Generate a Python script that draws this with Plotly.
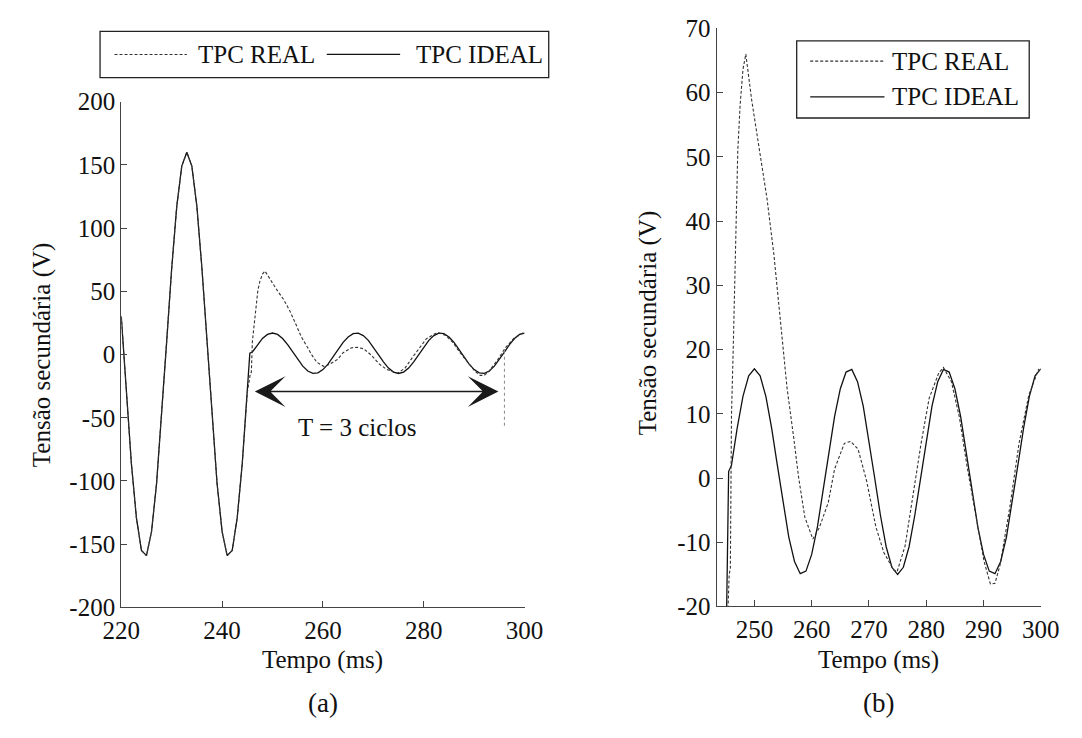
import plotly.graph_objects as go

# ---------------- data ----------------
# common part before the fault (both CCVTs follow the same waveform)
time_pre = [220, 221, 222, 223, 224, 225, 226, 227, 228, 229, 230, 231, 232,
            233, 234, 235, 236, 237, 238, 239, 240, 241, 242, 243, 244, 245]
volt_pre = [30, -30, -86, -129, -155, -159, -140, -102, -49, 10, 68, 117, 149,
            160, 149, 117, 68, 10, -49, -102, -140, -159, -155, -129, -86, -30]

# TPC REAL after the fault
time_real_post = [245.6, 245.8, 246.0, 246.3, 246.5, 246.9, 247.1, 247.5, 248.0,
                  248.5, 248.8, 249.5, 250.8, 252.2, 253.4, 254.7, 255.7, 256.9,
                  257.7, 258.8, 260.2, 261.3, 262.9, 264.0, 265.7, 266.8, 268.1,
                  269.6, 271.2, 272.6, 274.3, 274.9, 276.3, 277.7, 279.1, 280.5,
                  282.2, 283.0, 284.4, 285.8, 287.2, 288.7, 290.1, 291.2, 292.0,
                  292.9, 294.6, 296.2, 297.9, 299.6, 300.0]
volt_real_post = [-15, -14, 10, 20, 28.5, 41.7, 51, 58, 63.6,
                  66, 64, 59, 51.5, 43.5, 34.8, 23.3, 14, 6,
                  0.2, -6.1, -9.5, -7.8, -3.8, 1.4, 5.4, 5.7, 4.5,
                  -0.5, -7.6, -11.6, -14.3, -14.6, -10.6, -2.6, 5.4, 12.4,
                  16.4, 17.2, 15, 9.4, 1.4, -6, -13, -16.5, -16.4,
                  -13.5, -4.5, 5.4, 12.9, 16.9, 16.5]

# TPC IDEAL after the fault
time_ideal_post = [245.5, 246, 247, 248, 249, 250, 251, 252, 253, 254, 255, 256,
                   257, 258, 259, 260, 261, 262, 263, 264, 265, 266, 267, 268,
                   269, 270, 271, 272, 273, 274, 275, 276, 277, 278, 279, 280,
                   281, 282, 283, 284, 285, 286, 287, 288, 289, 290, 291, 292,
                   293, 294, 295, 296, 297, 298, 299, 300]
volt_ideal_post = [1.0, 2.0, 7.8, 12.7, 15.9, 17.0, 15.9, 12.7, 7.8, 2.0, -3.9, -9.2,
                   -13.0, -14.9, -14.5, -11.9, -7.6, -2.0, 4.0, 9.6, 13.9, 16.5, 16.9, 15.0,
                   11.2, 5.9, 0.0, -5.8, -10.7, -13.9, -15.0, -13.9, -10.7, -5.8, 0.0, 5.9,
                   11.2, 15.0, 16.9, 16.5, 13.9, 9.6, 4.0, -2.0, -7.6, -11.9, -14.5, -14.9,
                   -13.0, -9.2, -3.9, 2.0, 7.8, 12.7, 15.9, 17.0]

series_names = ["TPC REAL", "TPC IDEAL"]

# tick labels
xticks_a = [220, 240, 260, 280, 300]
yticks_a = [-200, -150, -100, -50, 0, 50, 100, 150, 200]
xticks_b = [250, 260, 270, 280, 290, 300]
yticks_b = [-20, -10, 0, 10, 20, 30, 40, 50, 60, 70]

# annotation in panel (a): T = 3 ciclos
arrow_t = [246.2, 294.8]
arrow_v = -29.3
marker_t = 296.0
marker_v = [3.0, -58.0]

# ---------------- figure ----------------
time_real = time_pre + time_real_post
volt_real = volt_pre + volt_real_post
time_ideal = time_pre + time_ideal_post
volt_ideal = volt_pre + volt_ideal_post

W, H = 1082, 738
def fx(p):
    return p / W
def fy(p):
    return 1 - p / H

FONT = "Liberation Serif"
FS = 25
DASH = "3px,2px"
TXT = "#111111"

fig = go.Figure()
for xa, ya in [("x", "y"), ("x2", "y2")]:
    fig.add_trace(go.Scatter(x=time_ideal, y=volt_ideal, mode="lines", name=series_names[1],
                             line=dict(color="#111111", width=1.3),
                             xaxis=xa, yaxis=ya, showlegend=False))
    fig.add_trace(go.Scatter(x=time_real, y=volt_real, mode="lines", name=series_names[0],
                             line=dict(color="#333333", width=1.1, dash=DASH),
                             xaxis=xa, yaxis=ya, showlegend=False))

def lab(v):
    return str(v)

axis_common = dict(showgrid=False, zeroline=False, showline=True, linecolor="#444444",
                   linewidth=1.2, ticks="inside", ticklen=6, tickcolor="#444444",
                   tickwidth=1, mirror=False,
                   tickfont=dict(family=FONT, size=FS, color=TXT))

fig.update_layout(
    width=W, height=H, autosize=False,
    margin=dict(l=0, r=0, t=0, b=0),
    plot_bgcolor="white", paper_bgcolor="white",
    xaxis=dict(domain=[fx(106), fx(524)], range=[220, 300], anchor="y",
               tickvals=xticks_a, ticktext=[lab(v) for v in xticks_a], **axis_common),
    yaxis=dict(domain=[fy(617), fy(92)], range=[-200, 200], anchor="x",
               tickvals=yticks_a, ticktext=[lab(v) for v in yticks_a], **axis_common),
    xaxis2=dict(domain=[fx(723), fx(1059)], range=[243.4, 300], anchor="y2",
                tickvals=xticks_b, ticktext=[lab(v) for v in xticks_b], **axis_common),
    yaxis2=dict(domain=[fy(616), fy(16)], range=[-20, 70], anchor="x2",
                tickvals=yticks_b, ticktext=[lab(v) for v in yticks_b], **axis_common),
)

shapes = []
annotations = []
tfont = dict(family=FONT, size=FS, color=TXT)

# legend (a): horizontal
shapes.append(dict(type="rect", xref="paper", yref="paper", x0=fx(84), x1=fx(549),
                   y0=fy(67), y1=fy(19), line=dict(color="#222222", width=1.3)))
shapes.append(dict(type="line", xref="paper", yref="paper", x0=fx(99), x1=fx(174),
                   y0=fy(43), y1=fy(43), line=dict(color="#333333", width=1.1, dash=DASH)))
shapes.append(dict(type="line", xref="paper", yref="paper", x0=fx(319), x1=fx(395),
                   y0=fy(43), y1=fy(43), line=dict(color="#111111", width=1.3)))
annotations.append(dict(text=series_names[0], xref="paper", yref="paper", x=fx(183), y=fy(43),
                        xanchor="left", yanchor="middle", showarrow=False, font=tfont))
annotations.append(dict(text=series_names[1], xref="paper", yref="paper", x=fx(409), y=fy(43),
                        xanchor="left", yanchor="middle", showarrow=False, font=tfont))

# legend (b): vertical
shapes.append(dict(type="rect", xref="paper", yref="paper", x0=fx(806), x1=fx(1047),
                   y0=fy(109), y1=fy(29), line=dict(color="#222222", width=1.3)))
shapes.append(dict(type="line", xref="paper", yref="paper", x0=fx(820), x1=fx(897),
                   y0=fy(50), y1=fy(50), line=dict(color="#333333", width=1.1, dash=DASH)))
shapes.append(dict(type="line", xref="paper", yref="paper", x0=fx(820), x1=fx(897),
                   y0=fy(87), y1=fy(87), line=dict(color="#111111", width=1.3)))
annotations.append(dict(text=series_names[0], xref="paper", yref="paper", x=fx(903), y=fy(50),
                        xanchor="left", yanchor="middle", showarrow=False, font=tfont))
annotations.append(dict(text=series_names[1], xref="paper", yref="paper", x=fx(903), y=fy(87),
                        xanchor="left", yanchor="middle", showarrow=False, font=tfont))

# T = 3 ciclos arrow and marker
annotations.append(dict(text="", xref="x", yref="y", x=arrow_t[1], y=arrow_v,
                        axref="x", ayref="y", ax=arrow_t[0], ay=arrow_v,
                        showarrow=True, arrowside="end+start",
                        arrowhead=3, arrowsize=3.4, startarrowhead=3, startarrowsize=3.4,
                        arrowwidth=1.5, arrowcolor="#1a1a1a"))
shapes.append(dict(type="line", xref="x", yref="y", x0=marker_t, x1=marker_t,
                   y0=marker_v[0], y1=marker_v[1], line=dict(color="#888888", width=1, dash="dot")))
annotations.append(dict(text="T = 3 ciclos", xref="paper", yref="paper", x=fx(350), y=fy(430),
                        xanchor="center", yanchor="middle", showarrow=False, font=tfont))

# axis titles and panel labels
for cx in (315, 891):
    annotations.append(dict(text="Tempo (ms)", xref="paper", yref="paper", x=fx(cx), y=fy(672),
                            xanchor="center", yanchor="middle", showarrow=False, font=tfont))
annotations.append(dict(text="(a)", xref="paper", yref="paper", x=fx(315), y=fy(716),
                        xanchor="center", yanchor="middle", showarrow=False,
                        font=dict(family=FONT, size=27, color=TXT)))
annotations.append(dict(text="(b)", xref="paper", yref="paper", x=fx(891), y=fy(716),
                        xanchor="center", yanchor="middle", showarrow=False,
                        font=dict(family=FONT, size=27, color=TXT)))
annotations.append(dict(text="Tensão secundária (V)", xref="paper", yref="paper", x=fx(24), y=fy(355),
                        xanchor="center", yanchor="middle", showarrow=False, textangle=-90, font=tfont))
annotations.append(dict(text="Tensão secundária (V)", xref="paper", yref="paper", x=fx(652), y=fy(322),
                        xanchor="center", yanchor="middle", showarrow=False, textangle=-90, font=tfont))

fig.update_layout(shapes=shapes, annotations=annotations)
fig.write_html("out.html")
